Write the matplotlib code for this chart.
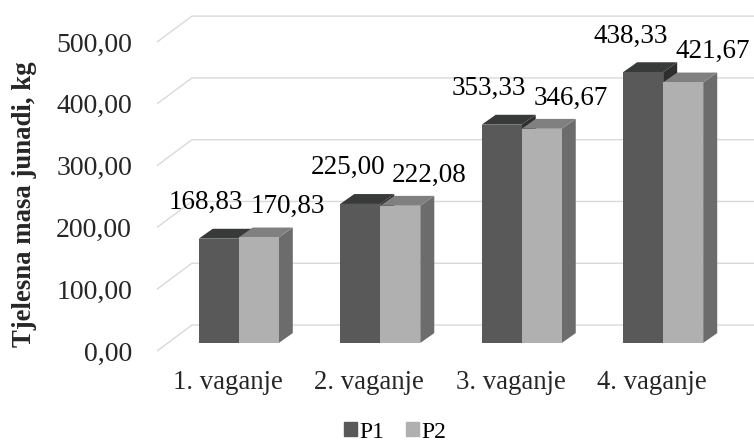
import matplotlib.pyplot as plt
from matplotlib.patches import Patch

categories = ['1. vaganje', '2. vaganje', '3. vaganje', '4. vaganje']
p1 = [168.83, 225.00, 353.33, 438.33]
p2 = [170.83, 222.08, 346.67, 421.67]
yticks = [0, 100, 200, 300, 400, 500]

plt.rcParams['font.family'] = ['Liberation Serif', 'DejaVu Serif']


def fmt(v):
    return f'{v:.2f}'.replace('.', ',')


fig = plt.figure(figsize=(7.54, 4.43), dpi=100)
ax = fig.add_axes([157 / 754, 92 / 443, 597 / 754, 346 / 443])
ax.set_xlim(-0.5, 3.72)
ax.set_ylim(0, 560)
for s in ax.spines.values():
    s.set_visible(False)

# wall depth and bar geometry (data units)
DX, DZ = 0.247, 42
BZ = 13
W = 0.283
BDX, BDZ = 0.099, 16

# back wall gridlines with the diagonal floor/side part
for v in yticks:
    ax.plot([-0.5, -0.5 + DX, 3.72], [v, v + DZ, v + DZ], color='#d9d9d9',
            lw=1.0, zorder=0, clip_on=False, solid_capstyle='butt')


def bar3d(x0, vals, front, top, side):
    for i, v in enumerate(vals):
        x = i + x0
        ax.fill([x + W, x + W + BDX, x + W + BDX, x + W],
                [BZ, BZ + BDZ, BZ + v + BDZ, BZ + v], color=side, lw=0, zorder=2)
        ax.fill([x, x + W, x + W + BDX, x + BDX],
                [BZ + v, BZ + v, BZ + v + BDZ, BZ + v + BDZ], color=top, lw=0, zorder=2)
    ax.bar([i + x0 for i in range(len(vals))], vals, W, bottom=BZ, align='edge',
           color=front, lw=0, zorder=2)


bar3d(-0.205, p1, '#595959', '#383a3a', '#2e2e2e')
bar3d(0.078, p2, '#b0b0b0', '#808080', '#6c6c6c')

for i, (a, b) in enumerate(zip(p1, p2)):
    ax.annotate(fmt(a), (i - 0.205 + W / 2, BZ + a), xytext=(-9, 26),
                textcoords='offset points', ha='center', va='center', fontsize=19.5)
    ax.annotate(fmt(b), (i + 0.078 + W / 2, BZ + b), xytext=(21, 22),
                textcoords='offset points', ha='center', va='center', fontsize=19.5)

ax.set_yticks(yticks)
ax.set_yticklabels([fmt(v) for v in yticks])
ax.set_xticks(range(len(categories)))
ax.set_xticklabels(categories)
ax.tick_params(axis='y', length=0, pad=18, labelsize=20, colors='#262626')
ax.tick_params(axis='x', length=0, pad=14, labelsize=19.3, colors='#262626')

fig.text(25 / 754, 1 - 204 / 443, 'Tjelesna masa junadi, kg', rotation=90,
         ha='center', va='center', fontsize=19.3, fontweight='bold', color='#262626')

handles = [Patch(color='#595959', label='P1'), Patch(color='#b0b0b0', label='P2')]
fig.legend(handles=handles, loc='center', bbox_to_anchor=(395 / 754, 1 - 432 / 443),
           ncol=2, frameon=False, fontsize=17, handlelength=0.55, handleheight=0.55,
           handletextpad=0.1, columnspacing=0.9, borderpad=0)

fig.savefig('out.png', dpi=100)
